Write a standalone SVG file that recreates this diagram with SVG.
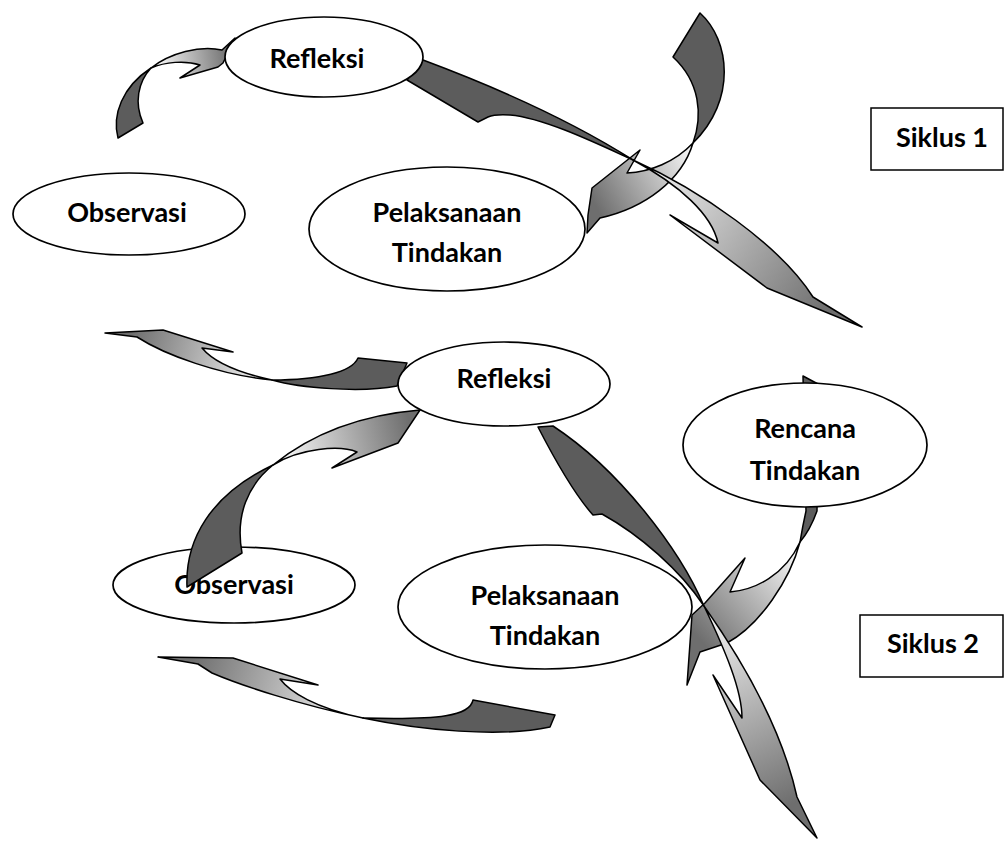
<svg xmlns="http://www.w3.org/2000/svg" width="1005" height="843" viewBox="0 0 1005 843">
<style>
.node{fill:#fff;stroke:#000;stroke-width:1.7}
.t{font-family:Lato,"Open Sans","Liberation Sans",sans-serif;font-weight:bold;font-size:27px;fill:#000;text-anchor:middle}
.dk{fill:#5c5c5c;stroke:#000;stroke-width:1.5;stroke-linejoin:round}
.hd{stroke:#000;stroke-width:1.5;stroke-linejoin:round}
.box{fill:#fff;stroke:#000;stroke-width:1.5}
</style>
<defs>
<linearGradient id="gA" gradientUnits="userSpaceOnUse" x1="160" y1="66" x2="230" y2="55"><stop offset="0" stop-color="#f4f4f4"/><stop offset="1" stop-color="#6e6e6e"/></linearGradient>
<linearGradient id="gB" gradientUnits="userSpaceOnUse" x1="640" y1="170" x2="830" y2="310"><stop offset="0" stop-color="#f4f4f4"/><stop offset="1" stop-color="#6e6e6e"/></linearGradient>
<linearGradient id="gC" gradientUnits="userSpaceOnUse" x1="690" y1="150" x2="595" y2="205"><stop offset="0" stop-color="#f4f4f4"/><stop offset="1" stop-color="#6e6e6e"/></linearGradient>
<linearGradient id="gD" gradientUnits="userSpaceOnUse" x1="265" y1="378" x2="130" y2="338"><stop offset="0" stop-color="#f4f4f4"/><stop offset="1" stop-color="#6e6e6e"/></linearGradient>
<linearGradient id="gE" gradientUnits="userSpaceOnUse" x1="285" y1="455" x2="410" y2="425"><stop offset="0" stop-color="#f4f4f4"/><stop offset="1" stop-color="#6e6e6e"/></linearGradient>
<linearGradient id="gF" gradientUnits="userSpaceOnUse" x1="710" y1="615" x2="800" y2="800"><stop offset="0" stop-color="#f4f4f4"/><stop offset="1" stop-color="#6e6e6e"/></linearGradient>
<linearGradient id="gG" gradientUnits="userSpaceOnUse" x1="795" y1="555" x2="700" y2="640"><stop offset="0" stop-color="#f4f4f4"/><stop offset="1" stop-color="#6e6e6e"/></linearGradient>
<linearGradient id="gH" gradientUnits="userSpaceOnUse" x1="355" y1="716" x2="190" y2="665"><stop offset="0" stop-color="#f4f4f4"/><stop offset="1" stop-color="#6e6e6e"/></linearGradient>
</defs>
<rect width="1005" height="843" fill="#fff"/>

<g id="observasi2">
<ellipse class="node" cx="234" cy="585" rx="121" ry="38"/>
<text class="t" x="234" y="594">Observasi</text>
</g>
<g id="pelaksanaan2">
<ellipse class="node" cx="545" cy="607" rx="147" ry="62"/>
<text class="t" x="545" y="605">Pelaksanaan</text>
<text class="t" x="545" y="645">Tindakan</text>
</g>

<g id="connectors">
<path class="dk" d="M118,138 C112,115 122,87 151,68 C138,82 134,103 143,123 Z"/>
<path class="hd" fill="url(#gA)" d="M151,68 C170,53 200,45 222,50 L235,38 L223,63 L218,67 L180,78 L200,65 C185,60 165,62 151,68 Z"/>
<path class="dk" d="M700,13 C730,40 737,100 693,143 C703,115 700,82 673,57 Z"/>
<path class="hd" fill="url(#gC)" d="M693,143 C682,180 645,208 600,218 L587,233 L588,215 L592,188 L640,150 L627,173 C650,172 675,162 693,143 Z"/>
<path class="dk" d="M423,60 C490,85 570,120 633,160 C600,145 545,118 510,115 Q495,114 488,117 L478,122 L407,80 Z"/>
<path class="hd" fill="url(#gB)" d="M633,160 C700,190 780,245 813,297 L862,327 L767,288 L670,215 L718,243 C712,215 680,185 633,160 Z"/>
<path class="dk" d="M407,363 L358,358 C352,372 320,380 272,380 C300,388 360,393 397,386 Z"/>
<path class="hd" fill="url(#gD)" d="M272,380 C220,375 165,355 137,337 L105,333 L163,330 L233,352 L202,348 C212,360 235,372 272,380 Z"/>
<path class="dk" d="M187,587 C185,540 210,495 273,465 C248,485 235,515 242,553 Z"/>
<path class="hd" fill="url(#gE)" d="M273,465 C310,435 360,415 420,410 L398,443 L332,468 L357,452 C340,445 300,448 273,465 Z"/>
<path class="dk" d="M803,376 L818,384 L817,511 C812,525 806,535 800,542 C802,530 804,520 806,511 Z"/>
<path class="hd" fill="url(#gG)" d="M800,542 C790,580 760,625 727,643 L700,652 L687,685 L692,615 L705,603 L745,558 L730,592 C755,590 785,575 800,542 Z"/>
<path class="dk" d="M538,427 C555,460 575,495 593,515 L602,514 C640,535 680,570 704,606 C680,550 620,470 553,426 Z"/>
<path class="hd" fill="url(#gF)" d="M704,606 C735,650 780,720 797,797 L817,838 L760,780 L713,675 L742,718 C742,690 725,650 704,606 Z"/>
<path class="dk" d="M473,700 C470,716 440,720 363,718 C420,730 500,738 550,727 L555,715 Z"/>
<path class="hd" fill="url(#gH)" d="M363,718 C300,705 240,685 212,673 L198,664 L158,657 L233,658 L318,685 L280,679 C290,692 315,708 363,718 Z"/>
</g>

<g id="refleksi1">
<ellipse class="node" cx="324" cy="57" rx="99" ry="40"/>
<text class="t" x="317" y="68">Refleksi</text>
</g>
<g id="observasi1">
<ellipse class="node" cx="129" cy="214" rx="116" ry="41"/>
<text class="t" x="127" y="222">Observasi</text>
</g>
<g id="pelaksanaan1">
<ellipse class="node" cx="447" cy="229" rx="138" ry="62"/>
<text class="t" x="447" y="222">Pelaksanaan</text>
<text class="t" x="447" y="262">Tindakan</text>
</g>
<g id="refleksi2">
<ellipse class="node" cx="504" cy="384" rx="106" ry="42"/>
<text class="t" x="504" y="388">Refleksi</text>
</g>
<g id="rencana">
<ellipse class="node" cx="805" cy="445" rx="122" ry="62"/>
<text class="t" x="805" y="438">Rencana</text>
<text class="t" x="805" y="480">Tindakan</text>
</g>
<g id="siklus1">
<rect class="box" x="871" y="108" width="132" height="62"/>
<text class="t" x="942" y="147">Siklus 1</text>
</g>
<g id="siklus2">
<rect class="box" x="860" y="615" width="143" height="62"/>
<text class="t" x="933" y="653">Siklus 2</text>
</g>
</svg>
